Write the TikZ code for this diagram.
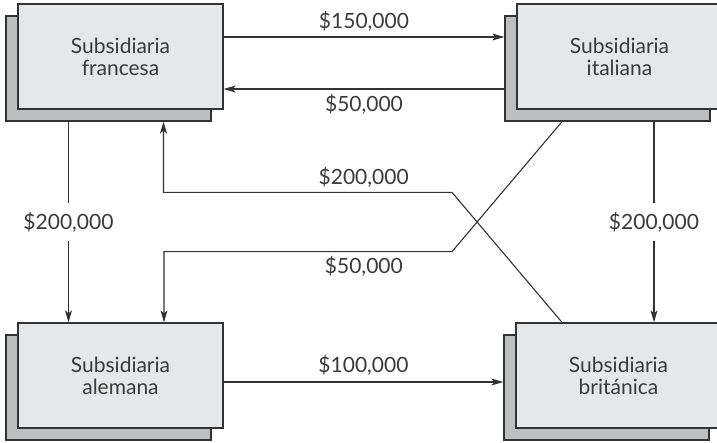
\documentclass[tikz,border=0pt]{standalone}
\usepackage{fontspec}
\setmainfont{Lato}
\usepackage{tikz}
\usetikzlibrary{positioning,arrows.meta}
\usepackage{xcolor}
\definecolor{boxfill}{HTML}{E6E7E8}
\definecolor{shadefill}{HTML}{BCBEC0}
\definecolor{edge}{HTML}{333333}
\definecolor{ink}{HTML}{3A3A3A}

\begin{document}
\begin{tikzpicture}[x=1bp,y=-1bp,>={Stealth[length=12bp,width=7bp,inset=3bp]},
  subs/.style={draw=edge,line width=1.3bp,fill=boxfill,minimum width=205bp,minimum height=105bp,align=center,text=ink,font=\fontsize{21bp}{22bp}\selectfont},
  shade/.style={draw=edge,line width=1.3bp,fill=shadefill,minimum width=205bp,minimum height=105bp},
  flow/.style={->,draw=edge,line width=1.1bp},
  amt/.style={text=ink,font=\fontsize{21bp}{22bp}\selectfont,inner sep=2bp}]
\useasboundingbox (0,0) rectangle (717,443);
% shadows behind the four boxes
\node[shade] (fraS) at (108.5,68.5) {};
\node[shade] (itaS) at (607.5,68.5) {};
\node[shade] (aleS) at (108.5,387.5) {};
\node[shade] (briS) at (606.5,387.5) {};
\node[subs] (fra) at (120.5,56.5) {Subsidiaria\\francesa};
\node[subs] (ita) at (619.5,56.5) {Subsidiaria\\italiana};
\node[subs] (ale) at (120.5,375.5) {Subsidiaria\\alemana};
\node[subs] (bri) at (618.5,375.5) {Subsidiaria\\británica};
% payments
\draw[flow] ([yshift=19.5bp]fra.east) -- ([yshift=19.5bp]fra.east -| itaS.west) node[amt,midway,above=3bp]{\$150,000};
\draw[flow] ([yshift=-32.5bp]fra.east -| itaS.west) -- ([yshift=-32.5bp]fra.east) node[amt,midway,below=3bp]{\$50,000};
\draw[flow] ([xshift=-40bp]fraS.south) -- ([xshift=-40bp]fraS.south |- ale.north) node[amt,midway,fill=white,inner ysep=9bp]{\$200,000};
\draw[flow] ([xshift=46.5bp]itaS.south) -- ([xshift=46.5bp]itaS.south |- bri.north) node[amt,midway,fill=white,inner ysep=9bp]{\$200,000};
\draw[flow] ([yshift=-6.5bp]ale.east) -- ([yshift=-6.5bp]ale.east -| briS.west) node[amt,midway,above=4bp]{\$100,000};
\draw[flow] ([xshift=-56.5bp]bri.north) -- ++(-110,-130) -| ([xshift=55bp]fraS.south) node[amt,pos=0.153,above=2bp]{\$200,000};
\draw[flow] ([xshift=-45.5bp]itaS.south) -- ++(-110,130) -| ([xshift=43.5bp]ale.north) node[amt,pos=0.153,below=2bp]{\$50,000};
\end{tikzpicture}
\end{document}
